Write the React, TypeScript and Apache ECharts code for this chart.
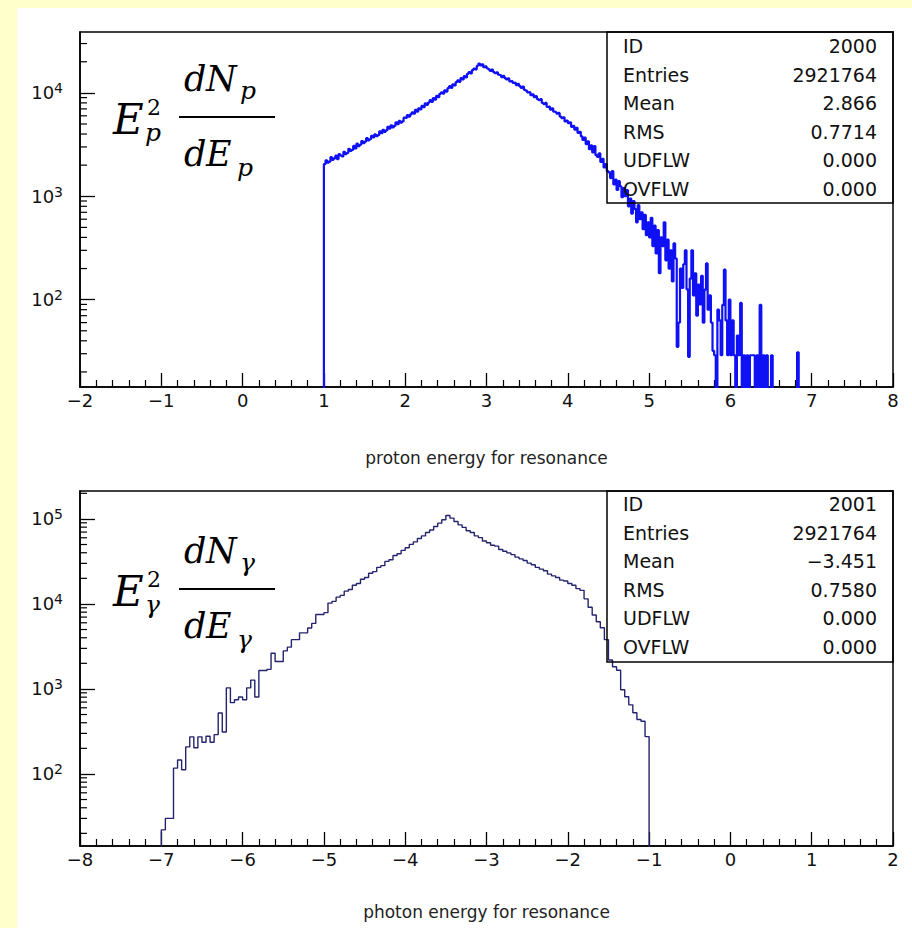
import React, { useEffect, useRef } from "react";
import * as echarts from "echarts";

// ---------------- data ----------------
// upper histogram: proton energy for resonance (bin left edges from protonBinStart, width protonBinWidth)
const protonBinStart = 1.0;
const protonBinWidth = 0.02;
const protonCounts = [
  // 1.00 - 1.98
  2050, 2230, 2110, 2160, 2390, 2250, 2330, 2470, 2290, 2560,
  2480, 2430, 2690, 2560, 2620, 2880, 2740, 2810, 3070, 2900,
  3230, 3060, 3150, 3420, 3260, 3380, 3660, 3480, 3560, 3850,
  3720, 3980, 3810, 3900, 4250, 4080, 4400, 4200, 4330, 4700,
  4520, 4860, 4640, 4790, 5180, 4980, 5350, 5140, 5300, 5760,
  // 2.00 - 2.88
  5700, 6090, 5880, 6200, 6480, 6300, 6850, 6580, 7100, 6940,
  7500, 7280, 7900, 7650, 8050, 8500, 8200, 8900, 8600, 9350,
  9100, 9800, 10100, 9850, 10600, 10300, 11100, 11600, 11200, 12100,
  11800, 12700, 13200, 12800, 13900, 13500, 14500, 14100, 15300, 15900,
  15400, 16600, 17200, 16900, 18300,
  // 2.90 - 2.98
  19200, 18400, 18900, 17700, 18100,
  // 3.00 - 3.48
  17300, 16900, 16300, 16800, 15900, 15500, 15800, 15000, 14800, 14200,
  14600, 13900, 13500, 13800, 12900, 13100, 12500, 12600, 11900, 12200,
  11600, 11200, 11500, 10700, 10500,
  // 3.50 - 3.98
  10100, 10200, 9500, 9700, 9100, 9300, 8700, 8500, 8700, 8000,
  7800, 8000, 7300, 7400, 6900, 7100, 6600, 6500, 6300, 6400,
  5900, 5700, 5800, 5300, 5400,
  // 4.00 - 4.48
  5100, 5200, 4700, 4800, 4400, 4600, 4100, 4200, 3800, 3500,
  3700, 3200, 3400, 2850, 3100, 2650, 3050, 2500, 2400, 2600,
  2150, 2300, 1900, 2050, 1750,
  // 4.50 - 4.98
  1700, 1500, 1750, 1300, 1450, 1150, 1400, 1250, 980, 1200,
  1000, 1150, 800, 950, 680, 900, 750, 560, 820, 600,
  700, 480, 660, 420, 560,
  // 5.00 - 5.48
  400, 620, 330, 520, 280, 470, 180, 400, 330, 560,
  240, 380, 200, 300, 150, 350, 250, 35, 60, 200,
  130, 220, 300, 126, 28,
  // 5.50 - 5.98
  160, 300, 110, 180, 70, 140, 90, 170, 60, 125,
  224, 80, 110, 60, 32, 29, 1, 80, 63, 29,
  89, 195, 63, 29, 100,
  // 6.00 - 6.58
  29, 63, 29, 1, 45, 29, 93, 1, 29, 1,
  29, 1, 29, 29, 29, 1, 29, 1, 89, 1,
  29, 1, 29, 1, 1, 29, 1, 1, 1, 1,
  // 6.60 - 6.84
  1, 1, 1, 1, 1, 1, 1, 1, 1, 1, 1, 31, 1,
];

// lower histogram: photon energy for resonance
const photonBinStart = -7.0;
const photonBinWidth = 0.05;
const photonCounts = [
  22, 30, 30, 117, 146, 112, 208, 273, 203, 273,
  236, 278, 236, 290, 520, 311, 1030, 690, 745, 805,
  745, 1030, 1270, 805, 1650, 1650, 1700, 2630, 2100, 2100,
  2800, 3100, 3800, 3800, 4570, 4570, 5200, 5900, 7500, 7500,
  7900, 10230, 10720, 12020, 12590, 14130, 14790, 16600, 17380, 19500,
  20420, 22910, 23990, 26920, 28180, 31620, 33110, 37150, 38900, 42660,
  45710, 50120, 53700, 58880, 63100, 69180, 74130, 81280, 89130, 97720,
  109600, 102300, 93300, 85100, 79430, 72440, 69180, 63100, 60260, 54950,
  52480, 48980, 47860, 43650, 41690, 39810, 38020, 35480, 33880, 32360,
  30200, 28840, 26920, 25700, 24550, 22390, 21380, 20420, 19050, 18620,
  17380, 16600, 15140, 14450, 11480, 9120, 7410, 6170, 5250, 3800,
  2190, 1820, 1660, 980, 810, 650, 525, 437, 417, 275,
];

const protonXRange = [-2, 8];
const photonXRange = [-8, 2];
const protonYRange = [14.3, 38800];
const photonYRange = [14.2, 213000];

const protonStats = [
  ["ID", "2000"],
  ["Entries", "2921764"],
  ["Mean", "2.866"],
  ["RMS", "0.7714"],
  ["UDFLW", "0.000"],
  ["OVFLW", "0.000"],
];
const photonStats = [
  ["ID", "2001"],
  ["Entries", "2921764"],
  ["Mean", "\u22123.451"],
  ["RMS", "0.7580"],
  ["UDFLW", "0.000"],
  ["OVFLW", "0.000"],
];

const protonTitle = "proton energy for resonance";
const photonTitle = "photon energy for resonance";

// ---------------- helpers ----------------
const SANS = '"DejaVu Sans", sans-serif';
const SERIF = '"DejaVu Serif", "Liberation Serif", serif';
const FLOOR = 1;

function histPoints(start: number, width: number, counts: number[]) {
  const pts: number[][] = [[start, FLOOR]];
  counts.forEach((c, i) => pts.push([+(start + i * width).toFixed(4), c]));
  pts.push([+(start + counts.length * width).toFixed(4), FLOOR]);
  return pts;
}

function minusFmt(v: number) {
  return v < 0 ? "\u2212" + Math.abs(v) : String(v);
}

function decadeFmt(v: number) {
  const l = Math.log10(v);
  const e = Math.round(l);
  if (Math.abs(l - e) > 1e-6) return "";
  return "{b|10}{s|" + e + "}";
}

function xAxisCfg(gridIndex: number, range: number[], name: string, nameGap: number) {
  return {
    type: "value",
    gridIndex,
    min: range[0],
    max: range[1],
    interval: 1,
    axisLine: { show: true, onZero: false, lineStyle: { color: "#000", width: 1.5 } },
    axisTick: { show: true, inside: true, length: 14, lineStyle: { color: "#000", width: 1.3 } },
    minorTick: { show: true, splitNumber: 5, length: 7, lineStyle: { color: "#000", width: 1.2 } },
    splitLine: { show: false },
    axisLabel: {
      margin: 4,
      fontSize: 18,
      fontFamily: SANS,
      color: "#111",
      formatter: minusFmt,
    },
    name,
    nameLocation: "middle",
    nameGap,
    nameTextStyle: { fontSize: 17, fontFamily: SANS, color: "#222" },
  };
}

function yAxisCfg(gridIndex: number, range: number[]) {
  return {
    type: "log",
    logBase: 10,
    gridIndex,
    min: range[0],
    max: range[1],
    axisLine: { show: true, onZero: false, lineStyle: { color: "#000", width: 1.5 } },
    axisTick: { show: true, inside: true, length: 15, lineStyle: { color: "#000", width: 1.3 } },
    minorTick: { show: false },
    splitLine: { show: false },
    axisLabel: {
      margin: 17,
      showMinLabel: false,
      showMaxLabel: false,
      formatter: decadeFmt,
      rich: {
        b: { fontSize: 18, fontFamily: SANS, color: "#111" },
        s: { fontSize: 14, fontFamily: SANS, color: "#111", verticalAlign: "top", padding: [0, 0, 9, 0] },
      },
    },
  };
}

function minorTickSeries(idx: number, xMin: number, yRange: number[]) {
  const vals: number[][] = [];
  for (let e = 0; e < 7; e++) {
    for (let m = 2; m <= 9; m++) {
      const v = m * Math.pow(10, e);
      if (v > yRange[0] && v < yRange[1]) vals.push([xMin, v]);
    }
  }
  return {
    type: "custom",
    xAxisIndex: idx,
    yAxisIndex: idx,
    silent: true,
    clip: false,
    z: 5,
    data: vals,
    encode: { x: 0, y: 1 },
    renderItem: (_p: any, api: any) => {
      const pt = api.coord([api.value(0), api.value(1)]);
      return {
        type: "line",
        shape: { x1: pt[0], y1: pt[1], x2: pt[0] + 7, y2: pt[1] },
        style: { stroke: "#000", lineWidth: 1.2 },
      };
    },
  };
}

function glyph(text: string, x: number, baseline: number, size: number, italic = true) {
  return {
    type: "text",
    x,
    y: baseline - 0.35 * size,
    z: 20,
    silent: true,
    style: {
      text,
      fill: "#000",
      fontSize: size,
      fontFamily: SERIF,
      fontStyle: italic ? "italic" : "normal",
      align: "left",
      verticalAlign: "middle",
    },
  };
}

function formula(sub: string, dy: number) {
  return [
    glyph("E", 113, 134 + dy, 42),
    glyph("2", 147, 115 + dy, 22, false),
    glyph(sub, 145, 141 + dy, 25),
    {
      type: "line",
      z: 20,
      silent: true,
      shape: { x1: 179, y1: 117 + dy, x2: 275, y2: 117 + dy },
      style: { stroke: "#000", lineWidth: 2 },
    },
    glyph("d", 184, 91 + dy, 35),
    glyph("N", 206, 91 + dy, 35),
    glyph(sub, 240, 99 + dy, 25),
    glyph("d", 184, 166 + dy, 35),
    glyph("E", 206, 166 + dy, 35),
    glyph(sub, 237, 176 + dy, 25),
  ];
}

function statsBox(rows: string[][], top: number, bottom: number, firstRow: number) {
  const els: any[] = [
    {
      type: "rect",
      z: 15,
      silent: true,
      shape: { x: 607, y: top, width: 286, height: bottom - top },
      style: { fill: "transparent", stroke: "#000", lineWidth: 1.5 },
    },
  ];
  rows.forEach((r, i) => {
    const y = firstRow + i * 28.6;
    els.push({
      type: "text",
      x: 623,
      y,
      z: 16,
      silent: true,
      style: { text: r[0], fill: "#111", fontSize: 19, fontFamily: SANS, align: "left", verticalAlign: "middle" },
    });
    els.push({
      type: "text",
      x: 877,
      y,
      z: 16,
      silent: true,
      style: { text: r[1], fill: "#111", fontSize: 19, fontFamily: SANS, align: "right", verticalAlign: "middle" },
    });
  });
  return els;
}

export default function App() {
  const ref = useRef<HTMLDivElement>(null);

  useEffect(() => {
    document.body.style.margin = "0";
    if (!ref.current) return;
    const chart = echarts.init(ref.current, null, { renderer: "svg" });

    const option: any = {
      animation: false,
      backgroundColor: "#FFFFCC",
      grid: [
        { left: 80, top: 32, width: 813, height: 355, show: true, borderColor: "#000", borderWidth: 1.5, backgroundColor: "transparent", outerBoundsMode: "none" },
        { left: 80, top: 491, width: 813, height: 355, show: true, borderColor: "#000", borderWidth: 1.5, backgroundColor: "transparent", outerBoundsMode: "none" },
      ],
      xAxis: [xAxisCfg(0, protonXRange, protonTitle, 62), xAxisCfg(1, photonXRange, photonTitle, 57)],
      yAxis: [yAxisCfg(0, protonYRange), yAxisCfg(1, photonYRange)],
      series: [
        {
          type: "line",
          xAxisIndex: 0,
          yAxisIndex: 0,
          step: "end",
          showSymbol: false,
          symbol: "none",
          clip: true,
          z: 10,
          lineStyle: { color: "#1010f5", width: 2.2 },
          data: histPoints(protonBinStart, protonBinWidth, protonCounts),
        },
        {
          type: "line",
          xAxisIndex: 1,
          yAxisIndex: 1,
          step: "end",
          showSymbol: false,
          symbol: "none",
          clip: true,
          z: 10,
          lineStyle: { color: "#24246e", width: 1.4 },
          data: histPoints(photonBinStart, photonBinWidth, photonCounts),
        },
        minorTickSeries(0, protonXRange[0], protonYRange),
        minorTickSeries(1, photonXRange[0], photonYRange),
      ],
      graphic: [
        {
          type: "rect",
          z: -10,
          silent: true,
          shape: { x: 17, y: 8, width: 895, height: 920 },
          style: { fill: "#FFFFFF" },
        },
        ...formula("p", 0),
        ...formula("\u03B3", 472),
        ...statsBox(protonStats, 32, 203, 46),
        ...statsBox(photonStats, 491, 662, 504),
      ],
    };

    chart.setOption(option);
    return () => chart.dispose();
  }, []);

  return <div ref={ref} style={{ position: "fixed", left: 0, top: 0, width: 912, height: 928 }} />;
}
